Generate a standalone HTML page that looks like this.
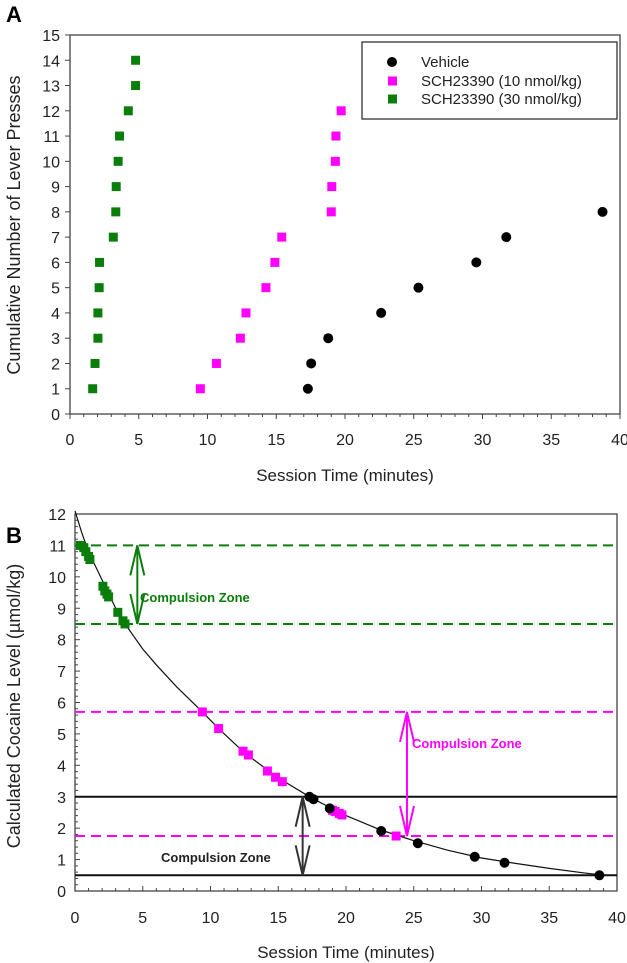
<!DOCTYPE html>
<html><head><meta charset="utf-8"><style>
body{margin:0;background:#fff;}
svg{display:block;font-family:"Liberation Sans",Arial,sans-serif;}
</style></head><body>
<svg id="chart" width="627" height="963" xmlns="http://www.w3.org/2000/svg"></svg>
<script>
// Panel A data
const aVehX=[17.3,17.54,18.78,22.63,25.34,29.55,31.73,38.73];
const aVehY=[1,2,3,4,5,6,7,8];
const aS10X=[9.48,10.65,12.39,12.8,14.25,14.9,15.4,19.0,19.04,19.3,19.34,19.72];
const aS10Y=[1,2,3,4,5,6,7,8,9,10,11,12];
const aS30X=[1.65,1.82,2.03,2.03,2.12,2.15,3.15,3.33,3.36,3.5,3.6,4.24,4.77,4.77];
const aS30Y=[1,2,3,4,5,6,7,8,9,10,11,12,13,14];
const aXTicks=[0,5,10,15,20,25,30,35,40];
const aYTicks=[0,1,2,3,4,5,6,7,8,9,10,11,12,13,14,15];
const legendLabels=["Vehicle","SCH23390 (10 nmol/kg)","SCH23390 (30 nmol/kg)"];
// Panel B data
const curveT=[0,0.5,1,2,3,3.7,5,6,7.5,9.4,10.6,12.5,15,17.5,20,22.5,25,27.5,30,32.5,35,37.5,38.7];
const curveY=[12.1,11.4,10.8,9.9,9.0,8.5,7.7,7.2,6.5,5.7,5.17,4.4,3.6,2.95,2.4,1.95,1.6,1.3,1.05,0.88,0.72,0.58,0.52];
const bS30X=[0.4,0.65,0.8,1.0,1.1,2.06,2.2,2.36,2.48,3.16,3.54,3.69];
const bS30Y=[11.0,10.93,10.8,10.65,10.55,9.7,9.55,9.45,9.36,8.87,8.6,8.5];
const bS10X=[9.4,10.6,12.4,12.8,14.2,14.8,15.3,19.0,19.2,19.5,19.7,23.7];
const bS10Y=[5.7,5.17,4.45,4.33,3.82,3.62,3.48,2.57,2.53,2.47,2.42,1.75];
const bVehX=[17.3,17.6,18.8,22.6,25.3,29.5,31.7,38.7];
const bVehY=[3.0,2.92,2.63,1.91,1.52,1.09,0.9,0.5];
const zoneS30=[11,8.5], zoneS10=[5.7,1.75], zoneVeh=[3.0,0.5];
const arrowX=[4.6,24.5,16.8];
const bXTicks=[0,5,10,15,20,25,30,35,40];
const bYTicks=[0,1,2,3,4,5,6,7,8,9,10,11,12];

const svg=document.getElementById('chart');
const NS='http://www.w3.org/2000/svg';
function mk(tag,attrs,parent,txt){const e=document.createElementNS(NS,tag);for(const k in attrs)e.setAttribute(k,attrs[k]);if(txt!==undefined)e.textContent=txt;(parent||svg).appendChild(e);return e;}
const GREEN='#0a7d0a',PINK='#ff00ff';

// Panel A scales
const ax=v=>70+v/40*550, ay=v=>414-v/15*379;
let t=mk('text',{x:6,y:22,'font-size':22,'font-weight':'bold'},svg,'A');

let r=mk('rect',{x:70,y:35,width:550,height:379,fill:'none',stroke:'#444','stroke-width':1.3});

for(let m=0;m<=40;m++){let l=mk('line',{x1:ax(m),x2:ax(m),y1:414,y2:414+(m%5?3:5),stroke:'#444'});}
aXTicks.forEach(v=>{let e=mk('text',{x:ax(v),y:445,'font-size':16,'text-anchor':'middle',fill:'#222'},svg,v);});
aYTicks.forEach(v=>{let l=mk('line',{x1:65,x2:70,y1:ay(v),y2:ay(v),stroke:'#444'});
 let e=mk('text',{x:60,y:ay(v)+6,'font-size':16,'text-anchor':'end',fill:'#222'},svg,v);});
t=mk('text',{x:345,y:481,'font-size':17,'text-anchor':'middle',fill:'#222'},svg,'Session Time (minutes)');

t=mk('text',{x:0,y:0,'font-size':18,'text-anchor':'middle',fill:'#222',transform:'translate(20,225) rotate(-90)'},svg,'Cumulative Number of Lever Presses');

aS30X.forEach((x,i)=>{let e=mk('rect',{x:ax(x)-4.5,y:ay(aS30Y[i])-4.5,width:9,height:9,fill:GREEN});});
aS10X.forEach((x,i)=>{let e=mk('rect',{x:ax(x)-4.5,y:ay(aS10Y[i])-4.5,width:9,height:9,fill:PINK});});
aVehX.forEach((x,i)=>{let e=mk('circle',{cx:ax(x),cy:ay(aVehY[i]),r:5,fill:'#000'});});
// legend
let lg=mk('g',{});
mk('rect',{x:362,y:42,width:255,height:77,fill:'#fff',stroke:'#333','stroke-width':1.3},lg);
const lgY=[62,81,99];
legendLabels.forEach((s,i)=>{let g=mk('g',{},lg);
 if(i==0)mk('circle',{cx:392,cy:lgY[i],r:5,fill:'#000'},g);else mk('rect',{x:388,y:lgY[i]-4.5,width:9,height:9,fill:i==1?PINK:GREEN},g);
 mk('text',{x:421,y:lgY[i]+5,'font-size':15,fill:'#222'},g,s);});

// Panel B scales
const bx=v=>75+v/40*542, by=v=>891-v/12*377;
t=mk('text',{x:6,y:543,'font-size':22,'font-weight':'bold'},svg,'B');

r=mk('rect',{x:75,y:514,width:542,height:377,fill:'none',stroke:'#444','stroke-width':1.3});

for(let m=0;m<=40;m++){let l=mk('line',{x1:bx(m),x2:bx(m),y1:891,y2:891-(m%5?3:5),stroke:'#444'});}
for(let k=0;k<=60;k++){let v=k*0.2;let l=mk('line',{x1:75,x2:75+(k%5?3:5),y1:by(v),y2:by(v),stroke:'#444'});}
bXTicks.forEach(v=>{let e=mk('text',{x:bx(v),y:923,'font-size':16,'text-anchor':'middle',fill:'#222'},svg,v);});
bYTicks.forEach(v=>{let e=mk('text',{x:66,y:by(v)+6,'font-size':16,'text-anchor':'end',fill:'#222'},svg,v);});
t=mk('text',{x:346,y:958,'font-size':17,'text-anchor':'middle',fill:'#222'},svg,'Session Time (minutes)');

t=mk('text',{x:0,y:0,'font-size':18,'text-anchor':'middle',fill:'#222',transform:'translate(20,706) rotate(-90)'},svg,'Calculated Cocaine Level (µmol/kg)');

// zone lines
function hline(v,col,dash,name){let l=mk('line',{x1:75,x2:617,y1:by(v),y2:by(v),stroke:col,'stroke-width':2,'stroke-dasharray':dash?'10,6':'none'});}
zoneS30.forEach(v=>hline(v,GREEN,true,'sch30-zone-line'));
zoneS10.forEach(v=>hline(v,PINK,true,'sch10-zone-line'));
zoneVeh.forEach(v=>hline(v,'#111',false,'vehicle-zone-line'));
// curve
let d=curveT.map((tt,i)=>(i?'L':'M')+bx(tt).toFixed(1)+','+by(curveY[i]).toFixed(1)).join(' ');
let p=mk('path',{d:d,fill:'none',stroke:'#111','stroke-width':1.2,'stroke-linejoin':'round'});
// arrows
function arrow(xv,zone,col,name){const x=bx(xv),y1=by(zone[0]),y2=by(zone[1]);let g=mk('g',{stroke:col,'stroke-width':2,fill:'none'});
 
 mk('line',{x1:x,x2:x,y1:y1,y2:y2},g);
 mk('path',{d:`M${x-7},${y1+30} L${x},${y1} L${x+7},${y1+30}`},g);
 mk('path',{d:`M${x-7},${y2-30} L${x},${y2} L${x+7},${y2-30}`},g);}
arrow(arrowX[0],zoneS30,GREEN,'sch30-zone-arrow');
arrow(arrowX[1],zoneS10,PINK,'sch10-zone-arrow');
arrow(arrowX[2],zoneVeh,'#333','vehicle-zone-arrow');
t=mk('text',{x:140,y:602,'font-size':13,'font-weight':'bold',fill:GREEN},svg,'Compulsion Zone');
t=mk('text',{x:412,y:748,'font-size':13,'font-weight':'bold',fill:PINK},svg,'Compulsion Zone');
t=mk('text',{x:161,y:862,'font-size':13,'font-weight':'bold',fill:'#222'},svg,'Compulsion Zone');
// points
bS30X.forEach((x,i)=>{let e=mk('rect',{x:bx(x)-4.5,y:by(bS30Y[i])-4.5,width:9,height:9,fill:GREEN});});
bS10X.forEach((x,i)=>{let e=mk('rect',{x:bx(x)-4.5,y:by(bS10Y[i])-4.5,width:9,height:9,fill:PINK});});
bVehX.forEach((x,i)=>{let e=mk('circle',{cx:bx(x),cy:by(bVehY[i]),r:5,fill:'#000'});});
</script>
</body></html>
